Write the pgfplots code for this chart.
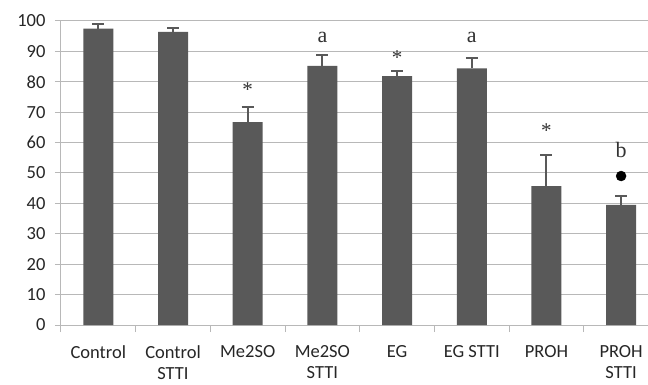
\documentclass[border=0pt]{standalone}
\usepackage{pgfplots}
\pgfplotsset{compat=1.18}
\usepackage{fontspec}
\setmainfont{Carlito}
\newfontfamily\serifann{Liberation Serif}
\definecolor{barc}{HTML}{595959}
\definecolor{gridc}{HTML}{B8B8B8}
\begin{document}
\begin{tikzpicture}
\begin{axis}[
  scale only axis,
  width=587bp, height=304bp,
  xmin=-0.5, xmax=7.36,
  ymin=0, ymax=100,
  ytick={0,10,...,100},
  xtick={0,...,7},
  xticklabels={Control,{Control\\STTI},Me2SO,{Me2SO\\STTI},EG,EG STTI,PROH,{PROH\\STTI}},
  minor xtick={-0.5,0.5,...,6.5},
  axis x line*=bottom, axis y line*=left,
  axis line style={gridc, line width=1bp},
  ymajorgrids, major grid style={gridc, line width=1bp},
  major x tick style={draw=none},
  minor x tick style={gridc, line width=1bp},
  major y tick style={gridc, line width=1bp},
  tick align=outside,
  major tick length=6bp, minor tick length=7bp,
  /pgf/number format/assume math mode=true,
  tick label style={font=\fontsize{18.5bp}{21bp}\selectfont, text=black!85},
  xticklabel style={align=center, yshift=-11bp},
  yticklabel style={xshift=-6bp},
  clip=false,
]
\addplot[ybar, bar width=30bp, fill=barc, draw=none,
  error bars/.cd, y dir=plus, y explicit,
  error bar style={barc, line width=2bp},
  error mark options={barc, rotate=90, mark size=6bp, line width=2bp}]
  table[x=x, y=y, y error=e] {
x y e
0 97.5 1.5
1 96.4 1.4
2 66.7 4.9
3 85.2 3.6
4 81.9 1.7
5 84.4 3.4
6 45.7 10.2
7 39.5 3.0
};
\addplot[only marks, mark=*, mark size=5bp, black] coordinates {(7,49)};
\node[font=\serifann\fontsize{21bp}{21bp}\selectfont, text=black!80] at (axis cs:2,77.5) {*};
\node[font=\serifann\fontsize{21bp}{21bp}\selectfont, text=black!80] at (axis cs:4,88) {*};
\node[font=\serifann\fontsize{21bp}{21bp}\selectfont, text=black!80] at (axis cs:6,64) {*};
\node[font=\serifann\fontsize{22bp}{22bp}\selectfont, text=black!80] at (axis cs:3,94.5) {a};
\node[font=\serifann\fontsize{22bp}{22bp}\selectfont, text=black!80] at (axis cs:5,94.5) {a};
\node[font=\serifann\fontsize{22bp}{22bp}\selectfont, text=black!80] at (axis cs:7,57.5) {b};
\end{axis}
\pgfresetboundingbox
\path (current axis.south west) ++(-61bp,-60bp) coordinate (bl);
\path (current axis.north east) ++(0bp,21bp) coordinate (tr);
\path (bl) rectangle (tr);
\end{tikzpicture}
\end{document}
